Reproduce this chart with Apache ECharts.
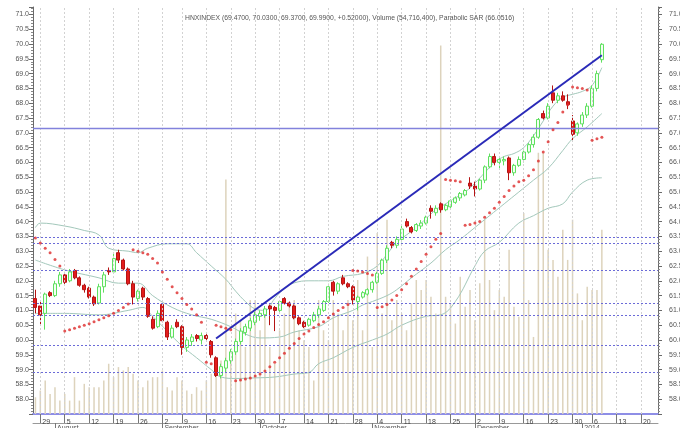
<!DOCTYPE html>
<html><head><meta charset="utf-8">
<script src="https://cdn.jsdelivr.net/npm/echarts@6/dist/echarts.min.js"></script>
<style>html,body{margin:0;padding:0;background:#fff}#c{width:680px;height:428px}</style>
</head><body><div id="c"></div>
<script>
// ---- calendar (trading days) ----
const START = '2013-07-26', END = '2014-01-23';
const HOLIDAYS = ['2013-09-02', '2014-01-01'];
const MONTH_NAMES = ['2014','February','March','April','May','June','July','August','September','October','November','December'];

// ---- price data: [open, high, low, close] per trading day ----
const candles = [
[61.4,61.7,60.9,61.1],[61.15,61.3,60.5,60.85],[60.9,61.6,60.35,61.55],[61.6,61.65,61.45,61.5],[61.5,62.0,61.45,61.9],
[61.9,62.3,61.8,62.2],[62.2,62.3,61.85,61.95],[62.0,62.4,61.95,62.3],[62.35,62.4,62.05,62.1],[62.1,62.15,61.8,61.85],
[61.85,61.9,61.6,61.7],[61.75,61.8,61.4,61.45],[61.45,61.5,61.15,61.22],[61.25,61.9,61.2,61.8],[61.8,62.3,61.6,62.2],
[62.35,62.45,62.2,62.3],[62.3,62.95,62.25,62.75],[62.95,63.05,62.6,62.7],[62.7,62.75,62.35,62.4],[62.4,62.45,61.85,61.9],
[61.9,62.0,61.2,61.45],[61.4,61.7,61.3,61.65],[61.75,61.8,61.35,61.45],[61.4,61.45,60.75,60.8],[60.7,60.8,60.35,60.4],
[60.45,61.0,60.4,60.9],[61.2,61.25,60.6,60.65],[60.6,60.65,60.0,60.1],[60.1,60.5,60.05,60.4],[60.6,60.7,60.4,60.45],
[60.45,60.5,59.5,59.75],[59.75,60.1,59.6,60.0],[59.95,60.2,59.8,60.1],[60.15,60.2,59.95,60.05],[60.0,60.25,59.85,60.15],
[60.15,60.2,60.0,60.05],[59.95,60.0,59.4,59.5],[59.4,59.45,58.75,58.8],[58.8,59.2,58.7,59.1],[59.05,59.4,58.9,59.3],
[59.3,59.7,59.2,59.6],[59.6,60.05,59.5,59.95],[59.95,60.4,59.85,60.3],[60.25,60.55,60.15,60.45],[60.4,60.75,60.3,60.65],
[60.6,60.95,60.5,60.85],[60.8,61.0,60.65,60.9],[60.85,61.15,60.75,61.05],[61.15,61.2,60.5,61.05],[61.1,61.15,60.3,61.0],
[61.0,61.35,60.95,61.3],[61.4,61.45,61.2,61.25],[61.25,61.3,61.1,61.15],[61.15,61.2,60.7,60.75],[60.75,60.8,60.5,60.55],
[60.6,60.65,60.4,60.45],[60.5,60.75,60.45,60.7],[60.65,60.95,60.6,60.85],[60.85,61.15,60.75,61.05],[61.0,61.35,60.95,61.3],
[61.3,61.9,61.25,61.8],[61.95,62.0,61.5,61.65],[61.65,61.95,61.55,61.9],[62.1,62.2,61.85,61.9],[61.9,61.95,61.75,61.8],
[61.8,61.85,61.2,61.35],[61.3,61.5,61.0,61.45],[61.45,61.65,61.4,61.6],[61.55,61.75,61.5,61.7],[61.7,62.0,61.6,61.95],
[61.95,62.3,61.9,62.25],[62.25,62.75,62.2,62.7],[62.7,63.2,62.6,63.1],[63.3,63.35,63.1,63.2],[63.2,63.5,63.1,63.4],
[63.4,63.85,63.3,63.75],[64.0,64.1,63.8,63.85],[63.8,63.85,63.6,63.65],[63.7,63.95,63.65,63.9],[63.85,64.05,63.75,63.95],
[63.95,64.2,63.9,64.15],[64.45,64.55,64.1,64.35],[64.3,64.55,64.2,64.45],[64.6,64.65,64.3,64.4],[64.4,64.6,64.35,64.55],
[64.5,64.75,64.45,64.7],[64.65,64.85,64.6,64.8],[64.8,65.0,64.7,64.95],[64.9,65.1,64.85,65.05],[65.3,65.5,65.1,65.2],
[65.2,65.35,64.85,65.1],[65.1,65.45,65.05,65.4],[65.4,65.9,65.3,65.85],[65.85,66.3,65.8,66.2],[66.2,66.3,65.9,66.0],
[66.0,66.15,65.8,66.1],[66.05,66.2,65.9,66.1],[66.15,66.2,65.4,65.65],[65.65,65.95,65.55,65.9],[65.9,66.2,65.85,66.1],
[66.1,66.4,66.0,66.35],[66.35,66.65,66.3,66.6],[66.6,66.95,66.5,66.85],[66.85,67.5,66.8,67.45],[67.65,67.75,67.45,67.5],
[67.5,68.0,67.45,67.9],[68.35,68.6,68.0,68.1],[68.1,68.35,68.0,68.25],[68.25,68.4,68.05,68.1],[68.05,68.3,67.8,67.95],
[67.4,67.6,66.7,66.95],[67.0,67.35,66.9,67.3],[67.3,67.7,67.2,67.6],[67.6,68.0,67.5,67.9],[67.9,68.6,67.85,68.5],
[68.5,69.1,68.4,69.0],[69.47,70.03,69.37,69.99]
];

// ---- volume (millions of shares) ----
const volume = [
5,7,10,6,8, 4,6,4,11,4, 9,8,8,8,10, 15,11,14,13,14, 12,10,8,10,11, 11,13,8,7,11,
10,7,6,8,7, 10,12,13,16,70, 16,30,28,20,34, 34,25,30,20,15, 25,30,32,34,25,
22,20,10,34,25, 22,34,30,25,34, 28,40,25,47,20, 54,30,58,28,34, 30,25,33,40,37,
40,35,30,110,35, 33,27,41,32,37, 28,39,58,40,31, 37,35,49,32,29, 60,34,23,78,78,
49,46,41,55,46, 58,36,28,38,37,37,55
];

// ---- Parabolic SAR ----
const sar = [
63.45,63.28,63.1,62.95,62.72,62.5,60.3,60.35,60.4,60.45,60.5,60.55,60.62,60.68,60.75,60.82,60.9,61.0,61.1,61.22,
63.05,63.0,62.95,62.9,62.75,62.6,62.3,62.05,61.8,61.6,61.4,61.2,61.05,60.85,60.6,59.25,59.2,60.5,60.45,60.4,
60.35,58.62,58.65,58.68,58.72,58.78,58.85,58.95,59.1,59.25,59.4,59.55,59.72,59.88,60.05,60.2,60.3,60.42,60.52,60.62,
60.75,60.88,61.0,61.1,61.2,62.35,62.33,62.3,62.25,62.2,61.1,61.12,61.2,61.35,61.5,61.7,61.9,62.15,62.4,62.65,
62.9,63.15,63.4,63.6,65.42,65.4,65.38,65.35,63.88,63.9,63.95,64.0,64.15,64.3,64.45,64.65,64.85,65.05,65.2,65.35,
65.4,65.55,65.75,66.05,66.35,66.7,67.1,67.35,67.7,67.95,68.55,68.52,68.5,68.45,66.75,66.8,66.85
];

// ---- Bollinger bands, read at points [dayIndex, value] ----
const bbUpper = [[0,63.8],[1,63.95],[6,63.85],[10,63.7],[13,63.55],[15,63.1],[19,63.0],[21,62.95],[23,63.1],[27,63.25],[31,63.25],[33,62.95],[36,62.5],[39,62.05],[41,61.65],[43,61.3],[45,61.05],[47,61.0],[49,61.4],[51,61.75],[53,61.93],[56,62.0],[60,62.0],[63,62.15],[67,62.25],[70,62.5],[72,62.9],[74,63.3],[76,63.55],[78,63.8],[80,64.1],[82,64.4],[84,64.6],[86,64.8],[88,65.0],[90,65.3],[92,65.65],[94,66.0],[96,66.2],[98,66.3],[100,66.5],[102,66.9],[104,67.4],[106,67.9],[108,68.2],[110,68.3],[112,68.4],[114,68.6],[116,69.2]];
const bbMiddle = [[0,62.7],[6,62.37],[13,62.1],[17,61.92],[21,61.92],[24,61.5],[28,61.1],[32,60.85],[36,60.7],[40,60.45],[43,60.2],[46,60.07],[50,60.1],[53,60.27],[58,60.45],[61,60.75],[65,61.0],[67,61.18],[69,61.3],[72,61.5],[74,61.7],[77,62.1],[81,62.6],[84,63.05],[87,63.4],[90,63.8],[93,64.2],[96,64.6],[99,65.0],[102,65.4],[105,65.8],[108,66.4],[110,66.8],[113,67.2],[116,67.65]];
const bbLower = [[0,60.9],[6,60.9],[13,60.85],[19,61.0],[22,61.1],[24,60.8],[27,60.3],[30,59.8],[33,59.4],[36,59.0],[38,58.75],[41,58.7],[45,58.72],[49,58.75],[53,58.85],[56,58.9],[58,59.2],[61,59.4],[65,59.75],[69,60.0],[72,60.2],[75,60.5],[80,60.8],[83,60.85],[86,61.3],[90,62.5],[92,63.0],[95,63.3],[99,63.95],[102,64.2],[105,64.45],[108,64.6],[110,65.0],[113,65.4],[116,65.48]];

// ---- drawn levels ----
const dottedLevels = [63.48, 63.27, 62.37, 61.24, 60.82, 59.83, 58.9];
const solidLevel = 67.17;
const trendStart = [37, 60.05], trendEnd = [116, 69.62];
const titleText = 'HNXINDEX (69.4700, 70.0300, 69.3700, 69.9900, +0.52000), Volume (54,716,400), Parabolic SAR (66.0516)';

// ---- build categories ----
function buildDays() {
  const out = []; let d = new Date(START + 'T00:00:00Z'); const e = new Date(END + 'T00:00:00Z');
  while (d <= e) { const w = d.getUTCDay(); const s = d.toISOString().slice(0, 10);
    if (w > 0 && w < 6 && !HOLIDAYS.includes(s)) out.push(s); d = new Date(d.getTime() + 86400000); }
  return out;
}
const days = buildDays();
const dt = s => new Date(s + 'T00:00:00Z');
const weekStart = days.map((s, i) => i > 0 && dt(s).getUTCDay() <= dt(days[i - 1]).getUTCDay());
const monthStart = days.map((s, i) => i > 0 && dt(s).getUTCMonth() !== dt(days[i - 1]).getUTCMonth());
const weekLabel = {}, monthLabel = {};
days.forEach((s, i) => {
  const d = dt(s);
  if (weekStart[i]) { const mon = new Date(d.getTime() - (d.getUTCDay() - 1) * 86400000); weekLabel[s] = String(mon.getUTCDate()); }
  if (monthStart[i]) monthLabel[s] = MONTH_NAMES[d.getUTCMonth()];
});

const FONT = 'Liberation Sans';
const chart = echarts.init(document.getElementById('c'));
const yBase = {
  type: 'value', min: 57.5, max: 71.25, interval: 0.5,
  axisLine: { show: true, lineStyle: { color: '#6a6a6a', width: 1 } },
  axisTick: { show: true, length: 4, lineStyle: { color: '#6a6a6a' } },
  minorTick: { show: true, splitNumber: 5, length: 2, lineStyle: { color: '#8a8a8a' } },
  axisLabel: { fontSize: 7, color: '#555', fontFamily: FONT, margin: 4,
    formatter: v => (v < 57.9 || v > 71.1) ? '' : v.toFixed(1) },
  splitLine: { show: false }
};

chart.setOption({
  animation: false,
  backgroundColor: '#fff',
  title: { text: titleText, left: 180, top: 10,
    textStyle: { fontSize: 6.8, fontWeight: 'normal', color: '#555', fontFamily: FONT } },
  grid: { left: 33, right: 22, top: 7, bottom: 14, containLabel: false, outerBoundsMode: 'none' },
  xAxis: [
    { type: 'category', data: days, boundaryGap: true,
      axisLine: { lineStyle: { color: '#8e8ee6', width: 2 } },
      axisTick: { show: true, alignWithLabel: true, interval: i => weekStart[i], length: 9, lineStyle: { color: '#777' } },
      axisLabel: { interval: i => weekStart[i], formatter: v => weekLabel[v] || '', align: 'left', margin: 5,
        padding: [0, 0, 0, 2], fontSize: 7, color: '#444', fontFamily: FONT },
      splitLine: { show: false } },
    { type: 'category', data: days, boundaryGap: true, position: 'bottom', offset: 9,
      axisLine: { lineStyle: { color: '#999', width: 1 } },
      axisTick: { show: true, alignWithLabel: true, interval: i => monthStart[i], length: 8, lineStyle: { color: '#777' } },
      axisLabel: { interval: i => monthStart[i], formatter: v => monthLabel[v] || '', align: 'left', margin: 2,
        padding: [0, 0, 0, 2], fontSize: 7, color: '#555', fontFamily: FONT } }
  ],
  yAxis: [
    Object.assign({}, yBase, { position: 'left' }),
    Object.assign({}, yBase, { position: 'right', axisLabel: Object.assign({}, yBase.axisLabel, { margin: 11 }) }),
    { type: 'value', min: 0, max: 121.5, show: false }
  ],
  series: [
    { name: 'Volume', type: 'bar', xAxisIndex: 0, yAxisIndex: 2, data: volume, barWidth: 1.5,
      itemStyle: { color: '#ddd3bc' }, z: 1, silent: true,
      markLine: { symbol: 'none', silent: true, label: { show: false },
        lineStyle: { color: '#d2d2d2', type: [2, 2], width: 1 },
        data: days.filter((s, i) => weekStart[i]).map(s => ({ xAxis: s })) } },
    { name: 'BBU', type: 'line', data: bbUpper, smooth: 0.4, showSymbol: false, z: 2,
      lineStyle: { color: '#a3c8bb', width: 1 } },
    { name: 'BBM', type: 'line', data: bbMiddle, smooth: 0.4, showSymbol: false, z: 2,
      lineStyle: { color: '#a3c8bb', width: 1 } },
    { name: 'BBL', type: 'line', data: bbLower, smooth: 0.4, showSymbol: false, z: 2,
      lineStyle: { color: '#a3c8bb', width: 1 } },
    { name: 'Levels', type: 'line', data: [], z: 3,
      markLine: { symbol: 'none', silent: true, label: { show: false },
        data: dottedLevels.map(v => ({ yAxis: v, lineStyle: { color: '#6b6bd8', type: [2, 2], width: 1 } }))
          .concat([{ yAxis: solidLevel, lineStyle: { color: '#8282dc', type: 'solid', width: 1.3 } }]) } },
    { name: 'HNXINDEX', type: 'candlestick', data: candles.map(c => [c[0], c[3], c[2], c[1]]), barWidth: 3.5, z: 4,
      itemStyle: { color: '#f2fff2', color0: '#e31c1c', borderColor: '#5fe05f', borderColor0: '#b51414', borderWidth: 1 } },
    { name: 'SAR', type: 'scatter', data: sar, symbolSize: 3, z: 5,
      itemStyle: { color: '#dd2a2a' } },
    { name: 'Trend', type: 'line', data: [], z: 6,
      markLine: { symbol: 'none', silent: true, label: { show: false },
        lineStyle: { color: '#2a2ab8', width: 2, type: 'solid' },
        data: [[{ coord: [days[trendStart[0]], trendStart[1]] }, { coord: [days[trendEnd[0]], trendEnd[1]] }]] } }
  ]
});
</script></body></html>
